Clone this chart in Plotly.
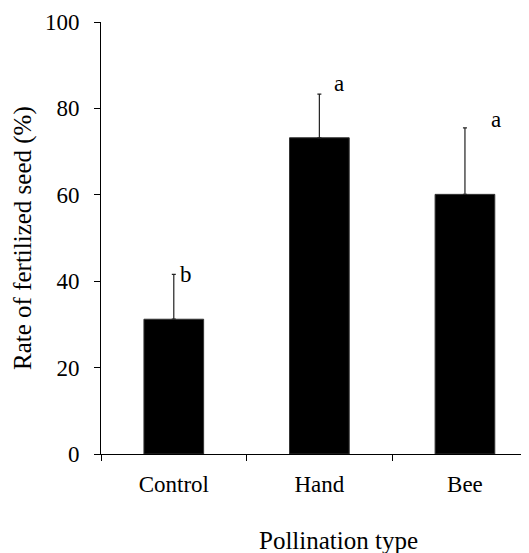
import plotly.graph_objects as go

categories = ["Control", "Hand", "Bee"]
rates = [31.2, 73.2, 60.1]
errors = [10.4, 10.1, 15.4]
letters = ["b", "a", "a"]
y_ticks = [0, 20, 40, 60, 80, 100]
x_title = "Pollination type"
y_title = "Rate of fertilized seed (%)"

FONT = "Times New Roman, Liberation Serif, DejaVu Serif, serif"
FS = 23
FS_TITLE = 25

fig = go.Figure()
fig.add_trace(go.Bar(
    x=categories, y=rates, width=0.41,
    marker=dict(color="black", line=dict(color="#333", width=1)),
    error_y=dict(type="data", array=errors, arrayminus=[0] * len(errors),
                 symmetric=False, color="#222", thickness=1.2, width=2),
))

shifts = [(4, 0), (13, 11), (24, 8)]
for cat, v, e, lab, (dx, dy) in zip(categories, rates, errors, letters, shifts):
    fig.add_annotation(x=cat, y=v + e, text=lab, showarrow=False,
                       xanchor="left", yanchor="middle", xshift=dx, yshift=dy,
                       font=dict(family=FONT, size=FS, color="black"))

fig.add_annotation(x=0.554, y=0, xref="paper", yref="paper", text=x_title,
                   showarrow=False, xanchor="center", yanchor="middle",
                   yshift=-86, font=dict(family=FONT, size=FS_TITLE, color="black"))
fig.add_annotation(x=0, y=0.5, xref="paper", yref="paper", text=y_title,
                   showarrow=False, xanchor="center", yanchor="middle",
                   textangle=-90, xshift=-78,
                   font=dict(family=FONT, size=FS_TITLE, color="black"))

fig.update_layout(
    width=521, height=545,
    margin=dict(l=93, r=0, t=14, b=99),
    paper_bgcolor="white", plot_bgcolor="white",
    showlegend=False,
    font=dict(family=FONT, size=FS, color="black"),
    xaxis=dict(range=[-0.5, 2.44], tickson="boundaries", ticks="outside",
               ticklen=6, tickcolor="black", showline=True, linecolor="black",
               linewidth=1, showgrid=False, zeroline=False, automargin=False,
               ticklabelstandoff=9),
    yaxis=dict(range=[0, 100], tickvals=y_ticks, ticks="outside", ticklen=6,
               tickcolor="black", showline=True, linecolor="black", linewidth=1,
               showgrid=False, zeroline=False, automargin=False,
               ticklabelstandoff=10),
)

fig.write_html("out.html")
